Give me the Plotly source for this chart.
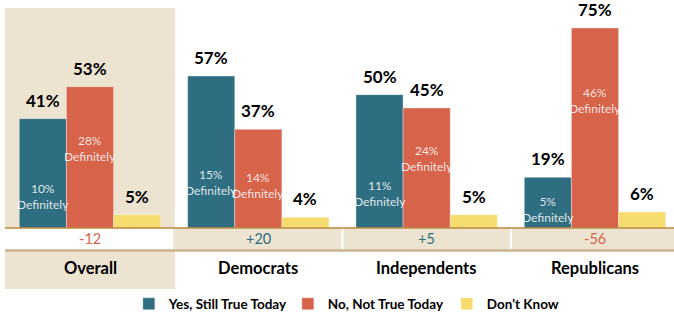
import plotly.graph_objects as go

categories = ["Overall", "Democrats", "Independents", "Republicans"]
yes_vals = [41, 57, 50, 19]
no_vals = [53, 37, 45, 75]
dk_vals = [5, 4, 5, 6]
yes_def = [10, 15, 11, 5]
no_def = [28, 14, 24, 46]
net_labels = ["-12", "+20", "+5", "-56"]
series_names = ["Yes, Still True Today", "No, Not True Today", "Don't Know"]

TEAL = "#2f6e80"
ORANGE = "#d6634a"
YELLOW = "#f6dc6e"
BEIGE = "#ece3d1"
FONT = "Lato"

xs = list(range(len(categories)))
fig = go.Figure()
for name, vals, col in zip(series_names, [yes_vals, no_vals, dk_vals], [TEAL, ORANGE, YELLOW]):
    fig.add_trace(go.Bar(x=xs, y=vals, name=name, marker=dict(color=col, line=dict(width=0.6, color="rgba(255,255,255,0.6)"))))

ann = []
offsets = [-1, 0, 1]
bw = 0.84 / 3
for si, vals in enumerate([yes_vals, no_vals, dk_vals]):
    for i, v in enumerate(vals):
        ann.append(dict(x=i + offsets[si] * bw, y=v, text=f"{v}%", showarrow=False,
                        yanchor="bottom", yshift=6, font=dict(family=FONT, size=17, color="black", weight="bold")))
for si, defs in enumerate([yes_def, no_def]):
    for i, d in enumerate(defs):
        ann.append(dict(x=i + offsets[si] * bw, y=d + 2, text=f"{d}%<br>Definitely", showarrow=False,
                        font=dict(family=FONT, size=12, color="rgba(255,255,255,0.85)")))
for i, (c, n) in enumerate(zip(categories, net_labels)):
    ann.append(dict(x=i, y=-15, text=c, showarrow=False,
                    font=dict(family=FONT, size=16.5, color="black", weight="bold")))
    ann.append(dict(x=i, y=-4.1, text=n, showarrow=False,
                    font=dict(family=FONT, size=14.5, color=ORANGE if n.startswith("-") else TEAL)))

shapes = []
shapes.append(dict(type="rect", xref="x", yref="y", x0=-0.505, x1=0.505, y0=-22.9, y1=82.5,
                   fillcolor=BEIGE, line=dict(width=0), layer="below"))
shapes.append(dict(type="rect", xref="x", yref="y", x0=-0.505, x1=0.495, y0=-8.2, y1=0,
                   fillcolor="white", line=dict(width=0), layer="below"))
for i in range(1, 4):
    shapes.append(dict(type="rect", xref="x", yref="y", x0=i - 0.5 + 0.006, x1=i + 0.5 - 0.006, y0=-8.2, y1=0,
                       fillcolor=BEIGE, line=dict(width=0), layer="below"))
shapes.append(dict(type="line", xref="x", yref="y", x0=-0.505, x1=3.5, y0=0, y1=0,
                   line=dict(color="#b8873a", width=1.5)))
shapes.append(dict(type="line", xref="x", yref="y", x0=-0.505, x1=3.5, y0=-8.4, y1=-8.4,
                   line=dict(color="#cbb48c", width=2.5)))

ppu = 200 / 75
fig.update_layout(
    width=674, height=333,
    margin=dict(l=0, r=0, t=0, b=0, autoexpand=False),
    paper_bgcolor="white", plot_bgcolor="rgba(0,0,0,0)",
    barmode="group", bargap=0.16, bargroupgap=0,
    xaxis=dict(range=[-90 / 168.33, (674 - 90) / 168.33], visible=False, fixedrange=True),
    yaxis=dict(range=[-(333 - 228) / ppu, 228 / ppu], visible=False, fixedrange=True),
    annotations=ann, shapes=shapes,
    legend=dict(orientation="h", x=0.545, xanchor="center", y=1 - 304 / 333, yanchor="middle",
                font=dict(family=FONT, size=13.5, color="black", weight="bold"),
                itemwidth=30, entrywidth=114, bgcolor="rgba(0,0,0,0)"),
    font=dict(family=FONT),
)
fig.write_html("out.html", config={"displayModeBar": False},
               post_script="document.body.style.margin='0px';")
